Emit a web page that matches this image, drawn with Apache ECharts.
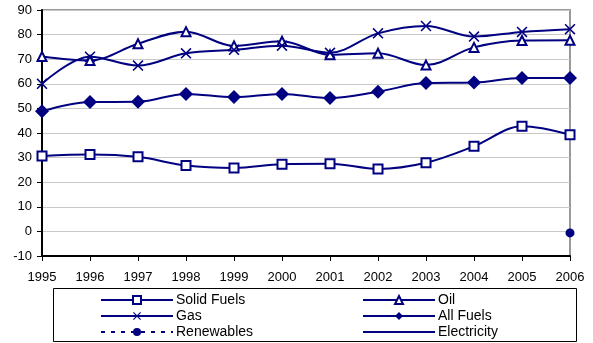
<!DOCTYPE html>
<html>
<head>
<meta charset="utf-8">
<script src="https://cdn.jsdelivr.net/npm/echarts@6/dist/echarts.min.js"></script>
<style>
  html, body { margin: 0; padding: 0; background: #fff; }
  #chart { width: 593px; height: 343px; }
</style>
</head>
<body>
<div id="chart"></div>
<script>
var years = ['1995', '1996', '1997', '1998', '1999', '2000', '2001', '2002', '2003', '2004', '2005', '2006']
var solidFuels = [30.7, 31.3, 30.3, 26.8, 25.8, 27.3, 27.5, 25.4, 27.9, 34.6, 42.7, 39.3]
var oil = [71.1, 69.5, 76.3, 81.2, 75.4, 77.3, 71.8, 72.4, 67.6, 74.8, 77.6, 77.7]
var gas = [60.0, 71.0, 67.4, 72.4, 73.8, 75.5, 72.6, 80.5, 83.5, 79.2, 81.1, 82.2]
var allFuels = [48.8, 52.6, 52.7, 55.9, 54.6, 55.9, 54.2, 56.8, 60.3, 60.5, 62.4, 62.4]
var renewables = [null, null, null, null, null, null, null, null, null, null, null, -0.6]
var electricity = [null, null, null, null, null, null, null, null, null, null, null, null]

var navy = '#000080'
var font = 'Liberation Sans, Arial, sans-serif'
// no X marker in echarts, so a filled cross shape
var crossPath = 'path://M0,1L1,0L5,4L9,0L10,1L6,5L10,9L9,10L5,6L1,10L0,9L4,5Z'

var chart = echarts.init(document.getElementById('chart'))

function lineSeries(name, data, symbol, size, fill, extra) {
    var s = {
        name: name,
        type: 'line',
        data: data,
        smooth: 0.35,
        symbol: symbol,
        symbolSize: size,
        showAllSymbol: true,
        animation: false,
        lineStyle: { color: navy, width: 2 },
        itemStyle: { color: fill, borderColor: navy, borderWidth: 2 }
    }
    return Object.assign(s, extra || {})
}

var legendText = { fontFamily: font, fontSize: 14, color: '#000', padding: [0, 0, 0, -2] }

function legendBlock(left, names) {
    return {
        orient: 'vertical',
        left: left, top: 293,
        itemWidth: 72, itemHeight: 10, itemGap: 2,
        padding: 0,
        textStyle: legendText,
        data: names
    }
}

chart.setOption({
    backgroundColor: '#fff',
    grid: {
        left: 42, right: 23, top: 10, bottom: 87,
        show: true, borderColor: '#999', borderWidth: 2, backgroundColor: 'transparent'
    },
    graphic: [{
        type: 'rect',
        shape: { x: 53.5, y: 288.5, width: 523, height: 53 },
        style: { fill: 'none', stroke: '#000', lineWidth: 1 },
        z: -1
    }],
    legend: [
        legendBlock(100, ['Solid Fuels', 'Gas', 'Renewables']),
        legendBlock(362, ['Oil', 'All Fuels', 'Electricity'])
    ],
    xAxis: {
        type: 'category',
        data: years,
        boundaryGap: false,
        axisLine: { onZero: false, lineStyle: { color: '#000', width: 2 } },
        axisTick: { show: true, length: 5, inside: false, lineStyle: { color: '#000' } },
        axisLabel: { fontFamily: font, fontSize: 13, color: '#000', margin: 15 },
        splitLine: { show: false }
    },
    yAxis: {
        type: 'value',
        min: -10, max: 90, interval: 10,
        axisLine: { show: true, lineStyle: { color: '#000', width: 2 } },
        axisTick: { show: true, length: 5, lineStyle: { color: '#000' } },
        axisLabel: { fontFamily: font, fontSize: 13, color: '#000', margin: 10 },
        splitLine: { lineStyle: { color: '#c8c8c8', width: 1 } }
    },
    series: [
        lineSeries('Solid Fuels', solidFuels, 'rect', 9, '#fff'),
        lineSeries('Oil', oil, 'triangle', 9, '#fff'),
        lineSeries('Gas', gas, crossPath, 11, navy, { itemStyle: { color: navy, borderWidth: 0 } }),
        lineSeries('All Fuels', allFuels, 'diamond', 14, navy, { itemStyle: { color: navy, borderWidth: 0 } }),
        lineSeries('Renewables', renewables, 'circle', 9, navy, {
            lineStyle: { color: navy, width: 3, type: [4, 6] },
            itemStyle: { color: navy, borderWidth: 0 }
        }),
        // no data, legend entry only: invisible marker so the key shows a plain line
        lineSeries('Electricity', electricity, 'circle', 0, 'transparent', {
            lineStyle: { color: navy, width: 1.5 },
            itemStyle: { color: 'transparent', borderWidth: 0 }
        })
    ]
})
</script>
</body>
</html>
